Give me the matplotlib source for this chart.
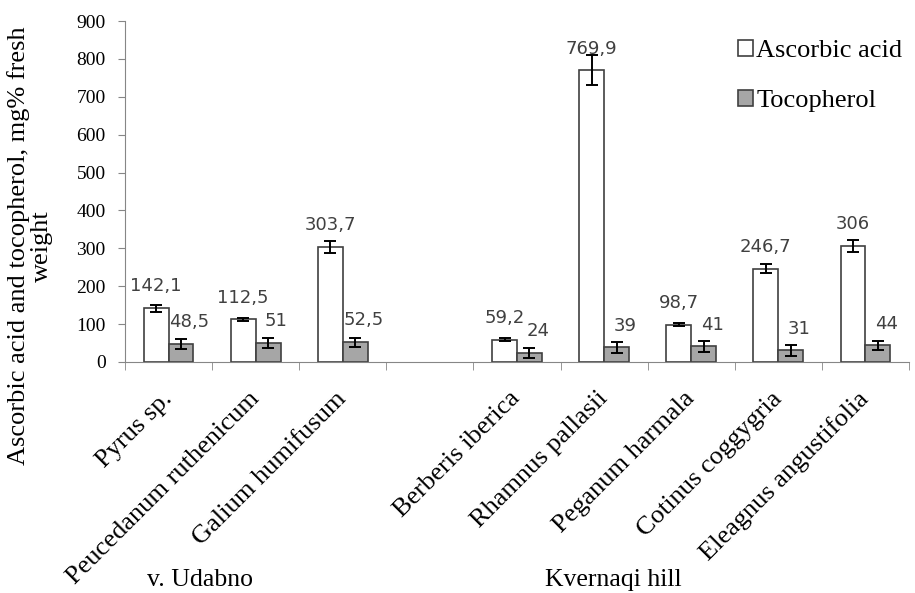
import numpy as np
import matplotlib
matplotlib.use("Agg")
import matplotlib.pyplot as plt

# one empty slot separates the two sampling sites
species = ["Pyrus sp.", "Peucedanum ruthenicum", "Galium humifusum", "",
           "Berberis iberica", "Rhamnus pallasii", "Peganum harmala",
           "Cotinus coggygria", "Eleagnus angustifolia"]
ascorbic = [142.1, 112.5, 303.7, np.nan, 59.2, 769.9, 98.7, 246.7, 306]
tocopherol = [48.5, 51, 52.5, np.nan, 24, 39, 41, 31, 44]
ascorbic_err = [9, 4, 15, np.nan, 4, 40, 4, 11, 15]
tocopherol_err = [13, 13, 12, np.nan, 14, 15, 14, 15, 12]
ascorbic_text = ["142,1", "112,5", "303,7", "", "59,2", "769,9", "98,7", "246,7", "306"]
tocopherol_text = ["48,5", "51", "52,5", "", "24", "39", "41", "31", "44"]
y_ticks = [0, 100, 200, 300, 400, 500, 600, 700, 800, 900]
sites = ["v. Udabno", "Kvernaqi hill"]

plt.rcParams["font.family"] = "Liberation Serif"
EDGE = "#404040"

fig = plt.figure(figsize=(9.15, 5.93), dpi=100)
ax = fig.add_axes([125 / 915, 1 - 362 / 593, (909 - 125) / 915, (362 - 21) / 593])

x = np.arange(len(species))
w = 0.286
ax.bar(x - w / 2, ascorbic, w, color="white", edgecolor=EDGE, linewidth=1.2,
       label="Ascorbic acid", zorder=2)
ax.bar(x + w / 2, tocopherol, w, color="#a6a6a6", edgecolor=EDGE, linewidth=1.2,
       label="Tocopherol", zorder=2)
ax.errorbar(x - w / 2, ascorbic, yerr=ascorbic_err, fmt="none", ecolor="black",
            elinewidth=1.4, capsize=4, capthick=1.4, zorder=3)
ax.errorbar(x + w / 2, tocopherol, yerr=tocopherol_err, fmt="none", ecolor="black",
            elinewidth=1.4, capsize=4, capthick=1.4, zorder=3)

# data labels are in a sans face, everything else is serif
for i in range(len(species)):
    if np.isnan(ascorbic[i]):
        continue
    ax.annotate(ascorbic_text[i], (x[i] - w / 2, ascorbic[i]), xytext=(0, 12),
                textcoords="offset points", ha="center", va="baseline",
                fontsize=13, color="#404040", family="DejaVu Sans", zorder=1)
    ax.annotate(tocopherol_text[i], (x[i] + w / 2, tocopherol[i]), xytext=(6, 12),
                textcoords="offset points", ha="center", va="baseline",
                fontsize=13, color="#404040", family="DejaVu Sans", zorder=1)

ax.set_xlim(-0.5, len(species) - 0.5)
ax.set_ylim(0, 900)
ax.set_yticks(y_ticks)
ax.tick_params(axis="y", direction="out", length=5, color="#868686", pad=9,
               labelsize=14)

ax.set_xticks(x)
ax.set_xticklabels(species, rotation=45, ha="right", va="center",
                   rotation_mode="anchor", fontsize=19)
ax.set_xticks(np.arange(-0.5, len(species)), minor=True)
ax.tick_params(axis="x", which="major", length=0, pad=24)
ax.tick_params(axis="x", which="minor", length=6, color="#868686")

for side in ["top", "right"]:
    ax.spines[side].set_visible(False)
for side in ["left", "bottom"]:
    ax.spines[side].set_color("#868686")

fig.text(30 / 915, 1 - 246 / 593, "Ascorbic acid and tocopherol, mg% fresh\nweight",
         rotation=90, ha="center", va="center", fontsize=19, linespacing=1.0)

fig.text(200 / 915, 1 - 580 / 593, sites[0], ha="center", va="center", fontsize=18.5)
fig.text(613 / 915, 1 - 580 / 593, sites[1], ha="center", va="center", fontsize=18.5)

fig.legend(loc="upper left", bbox_to_anchor=(738 / 915, 1 - 40 / 593),
           frameon=False, fontsize=19,
           handlelength=0.55, handleheight=0.55, handletextpad=0.15,
           borderpad=0, borderaxespad=0, labelspacing=1.05)

fig.savefig("out.png", dpi=100)
